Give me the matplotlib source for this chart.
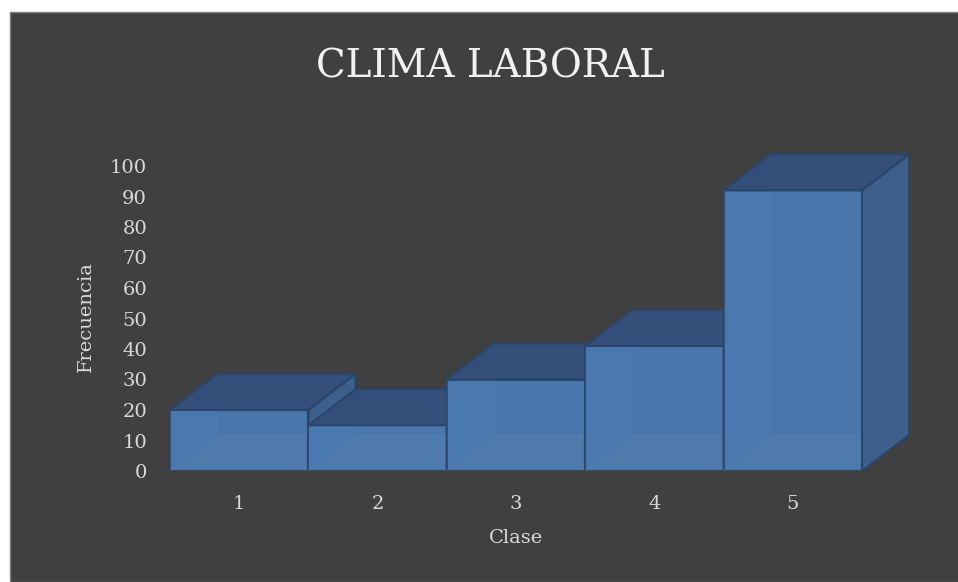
import matplotlib
matplotlib.use('Agg')
import matplotlib.pyplot as plt
from matplotlib.patches import Polygon, Rectangle

# chart data
clases = [1, 2, 3, 4, 5]
frecuencia = [20, 15, 30, 41, 92]
y_ticks = list(range(0, 101, 10))

BG = '#404040'
FRONT = '#4a77ab'
TOP = '#34507a'
SIDE = '#3d5f8a'
EDGE = '#2a4669'
TEXT = '#d9d9d9'

# depth of the 3D boxes in data units
DX, DY = 0.34, 11.8

plt.rcParams['font.family'] = ['DejaVu Serif']

fig = plt.figure(figsize=(9.58, 5.82), dpi=100)
fig.patch.set_facecolor('white')
fig.patches.append(Rectangle((10 / 958, 0), 1, 1 - 12 / 582, transform=fig.transFigure,
                             facecolor=BG, edgecolor='#7f7f7f', lw=1, zorder=-1))

ax = fig.add_axes([170 / 958, 111 / 582, 750 / 958, 331 / 582])
ax.set_facecolor('none')
ax.set_xlim(0.5, 0.5 + 750 / 138.4)
ax.set_ylim(0, 331 / 3.05)

for i, (c, v) in enumerate(zip(clases, frecuencia)):
    z = 2 + i * 0.1
    x0, x1 = c - 0.5, c + 0.5
    ax.bar(c, v, width=1, color=FRONT, edgecolor=EDGE, linewidth=1.5, zorder=z)
    # faint faces and edges seen through the box
    ax.add_patch(Polygon([(x0, 0), (x0 + DX, DY), (x1 + DX, DY), (x1, 0)], closed=True,
                         facecolor='white', alpha=0.025, edgecolor='none', zorder=z + 0.01))
    ax.add_patch(Polygon([(x0, 0), (x0, v), (x0 + DX, v + DY), (x0 + DX, DY)], closed=True,
                         facecolor='#4f86cc', alpha=0.18, edgecolor='none', zorder=z + 0.01))
    ax.plot([x0, x0 + DX, x0 + DX], [0, DY, v + DY], color='#5a8ac4', alpha=0.25,
            lw=1, zorder=z + 0.02)
    ax.plot([x0 + DX, x1], [DY, DY], color='#5a8ac4', alpha=0.25, lw=1, zorder=z + 0.02)
    # top and right faces
    ax.add_patch(Polygon([(x0, v), (x0 + DX, v + DY), (x1 + DX, v + DY), (x1, v)], closed=True,
                         facecolor=TOP, edgecolor=EDGE, lw=1.5, zorder=z + 0.03))
    ax.add_patch(Polygon([(x1, 0), (x1, v), (x1 + DX, v + DY), (x1 + DX, DY)], closed=True,
                         facecolor=SIDE, edgecolor=EDGE, lw=1.5, zorder=z + 0.03))

ax.set_xticks(clases)
ax.set_xticklabels([str(c) for c in clases])
ax.set_yticks(y_ticks)
for s in ax.spines.values():
    s.set_visible(False)
ax.tick_params(axis='both', length=0, labelsize=14, labelcolor=TEXT)
ax.tick_params(axis='y', pad=16.5)
ax.tick_params(axis='x', pad=17)

ax.set_xlabel('Clase', fontsize=14, color=TEXT)
ax.xaxis.set_label_coords((516 - 170) / 750, (471 - 538) / 331)
ax.xaxis.label.set_va('center')
ax.set_ylabel('Frecuencia', fontsize=14, color=TEXT)
ax.yaxis.set_label_coords((86 - 170) / 750, (471 - 317) / 331)
ax.yaxis.label.set_va('center')

fig.text(490 / 958, 1 - 78 / 582, 'CLIMA LABORAL', fontsize=28, color='#f2f2f2',
         ha='center', va='baseline')

fig.savefig('out.png', dpi=100, facecolor=fig.get_facecolor())
